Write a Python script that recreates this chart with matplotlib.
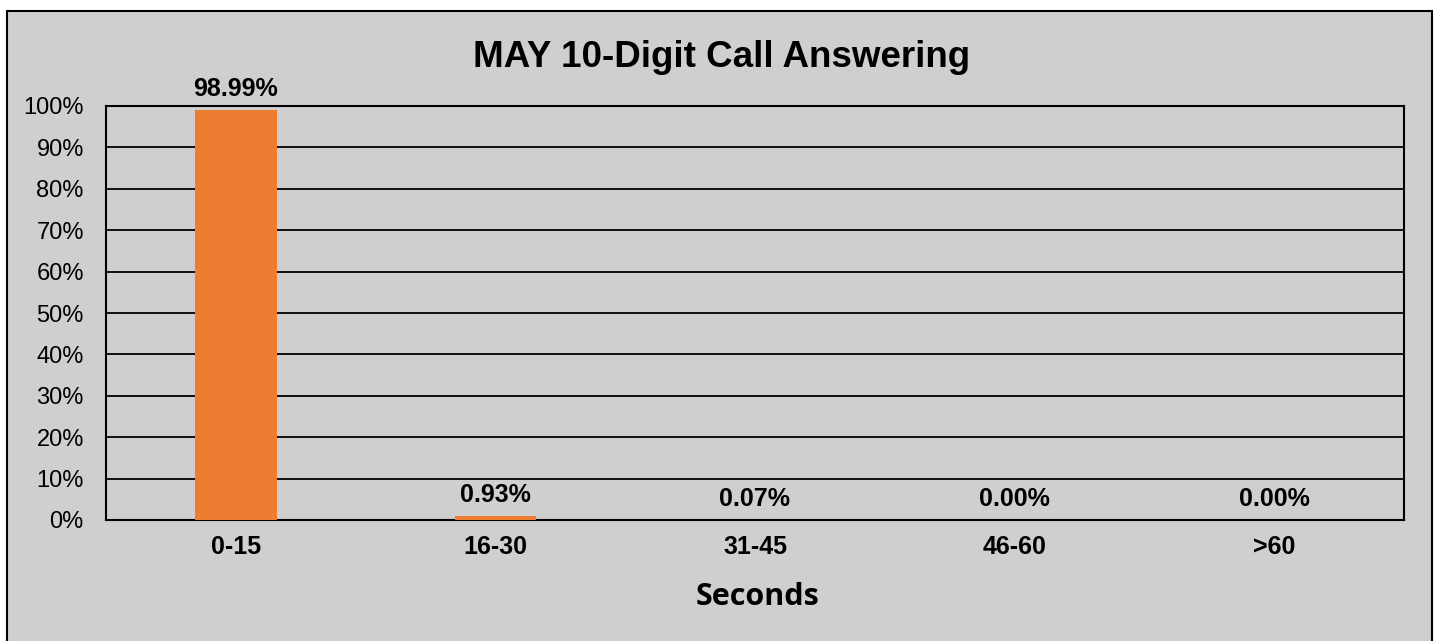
import matplotlib.pyplot as plt
from matplotlib.patches import Rectangle

categories = ["0-15", "16-30", "31-45", "46-60", ">60"]
values = [98.99, 0.93, 0.07, 0.00, 0.00]
ytick_values = [0, 10, 20, 30, 40, 50, 60, 70, 80, 90, 100]
ytick_labels = ["%d%%" % v for v in ytick_values]

BG = "#D0CECE"
BAR = "#ED7D31"

fig = plt.figure(figsize=(14.43, 6.41), dpi=100)
fig.patch.set_facecolor("white")
# chart area frame
fig.patches.append(Rectangle((7 / 1443, -0.02), (1432 - 7) / 1443, 1.02 - 11 / 641,
                             transform=fig.transFigure, facecolor=BG,
                             edgecolor="black", linewidth=1.5, zorder=-5))

ax = fig.add_axes([106 / 1443, 121 / 641, (1404 - 106) / 1443, (520 - 106) / 641])
ax.set_facecolor(BG)

x = list(range(len(categories)))
ax.bar(x, values, width=0.315, color=BAR, zorder=3)

for xi, v in zip(x, values):
    ax.annotate("%.2f%%" % v, (xi, v), xytext=(0, 10), textcoords="offset points",
                ha="center", va="baseline", fontsize=18, fontweight="bold",
                family="Liberation Sans", zorder=4)

ax.set_xlim(-0.5, len(categories) - 0.5)
ax.set_ylim(0, 100)
ax.set_yticks(ytick_values)
ax.set_yticklabels(ytick_labels, fontsize=17, family="Liberation Sans")
ax.set_xticks(x)
ax.set_xticklabels(categories, fontsize=18, fontweight="bold", family="Liberation Sans")
ax.tick_params(axis="y", length=0, pad=16)
ax.tick_params(axis="x", length=0, pad=11)
ax.grid(axis="y", color="black", linewidth=1.3, zorder=1)
ax.set_axisbelow(True)
for s in ax.spines.values():
    s.set_color("black")
    s.set_linewidth(1.5)

fig.text(0.5, 0.911, "MAY 10-Digit Call Answering", ha="center", va="center",
         fontsize=26.5, fontweight="bold", family="Liberation Sans")
fig.text(0.525, 0.069, "Seconds", ha="center", va="center",
         fontsize=22, fontweight="bold", family="Open Sans")

fig.savefig("out.png", dpi=100, facecolor=fig.get_facecolor())
